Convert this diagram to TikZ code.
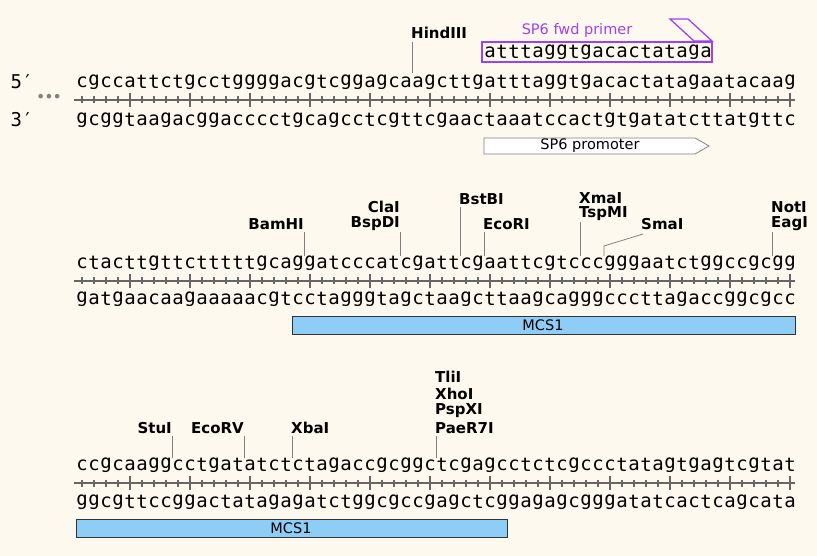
\documentclass[tikz,border=0pt]{standalone}
\usepackage{fontspec}
\newfontfamily\seqf{DejaVu Sans Mono}
\newfontfamily\labf{DejaVu Sans}
\definecolor{bg}{HTML}{FEF9EE}
\definecolor{prim}{HTML}{A040F0}
\definecolor{mcs}{HTML}{8ECDF5}
\definecolor{rulc}{HTML}{666666}
\newcount\seqi
\def\seqrow#1#2{\seqi=0\def\seqy{#1}\seqloop#2\relax}
\def\seqloop#1{\ifx#1\relax\else\node[seq] (s\seqy-\the\seqi) at ({82+12*\the\seqi},\seqy) {#1};\advance\seqi by 1\relax\expandafter\seqloop\fi}
\newcommand\ruler[1]{%
  \draw[rul] (74,#1) -- (795,#1);
  \foreach \i in {0,...,59}{\draw[rul] ({82+12*\i},#1-3.5) -- ++(0,7);}
  \foreach \i in {4,9,...,59}{\draw[rul] ({82+12*\i},#1-7) -- ++(0,14);}
}
\begin{document}
\begin{tikzpicture}[x=1pt,y=-1pt,
  seq/.style={inner sep=0pt,font=\seqf\fontsize{19}{19}\selectfont},
  rul/.style={draw=rulc,line width=1.6pt},
  cut/.style={draw=gray,line width=0.8pt},
  enz/.style={inner sep=0pt,font=\labf\bfseries\fontsize{15}{15}\selectfont},
  lab/.style={inner sep=0pt,font=\labf\fontsize{14.5}{14.5}\selectfont},
  bar/.style={draw=black!80,fill=mcs,line width=0.7pt}]
\fill[bg] (0,0) rectangle (817,556);
\useasboundingbox (0,0) rectangle (817,556);
% row 1
\node[seq] (p5) at (22,82) {5′};
\node[seq] (p3) at (22,120) {3′};
\node[text=gray,font=\labf\bfseries\fontsize{13}{13}\selectfont,inner sep=0pt] (dots) at (49,98) {•••};
\seqrow{82}{cgccattctgcctggggacgtcggagcaagcttgatttaggtgacactatagaatacaag}
\ruler{100}
\seqrow{120}{gcggtaagacggacccctgcagcctcgttcgaactaaatccactgtgatatcttatgttc}
\draw[cut] (412,73) -- (412,42);
\node[enz,anchor=west] (hind) at (411,33) {HindIII};
% primer
\draw[prim,line width=1.3pt] (482,42) rectangle (712,62);
\draw[prim,line width=1.3pt,fill=bg] (670,19) -- (688,19) -- (712,41) -- (694,41) -- cycle;
\foreach \c [count=\i from 34] in {a,t,t,t,a,g,g,t,g,a,c,a,c,t,a,t,a,g,a}
  \node[seq] (pr\i) at ({82+12*\i},52) {\c};
\node[lab,text=prim] (primlab) at (577,31) {SP6 fwd primer};
\draw[draw=gray,fill=white,line width=0.8pt] (484,138) -- (695,138) -- (709,146) -- (695,154) -- (484,154) -- cycle;
\node[lab] (sp6) at (590,146) {SP6 promoter};
% row 2
\seqrow{263}{ctacttgttctttttgcaggatcccatcgattcgaattcgtcccgggaatctggccgcgg}
\ruler{281}
\seqrow{299}{gatgaacaagaaaaacgtcctagggtagctaagcttaagcagggcccttagaccggcgcc}
\draw[bar] (292,316) rectangle (795,334);
\node[lab] (mcs1a) at (543,325) {MCS1};
\draw[cut] (304,256) -- (304,232);
\node[enz,anchor=east] (bam) at (304,224) {BamHI};
\draw[cut] (400,256) -- (400,232);
\node[enz,anchor=east] (cla) at (400,207) {ClaI};
\node[enz,anchor=east] (bsp) at (400,224) {BspDI};
\draw[cut] (460,256) -- (460,207);
\node[enz,anchor=west] (bst) at (459,199) {BstBI};
\draw[cut] (484,256) -- (484,232);
\node[enz,anchor=west] (eco) at (483,224) {EcoRI};
\draw[cut] (580,256) -- (580,222);
\node[enz,anchor=west] (xma) at (579,198) {XmaI};
\node[enz,anchor=west] (tsp) at (579,214) {TspMI};
\draw[cut] (604,256) -- (604,246) -- (643,234);
\node[enz,anchor=west] (sma) at (641,224) {SmaI};
\draw[cut] (772,256) -- (772,232);
\node[enz,anchor=west] (not) at (771,207) {NotI};
\node[enz,anchor=west] (eag) at (771,224) {EagI};
% row 3
\seqrow{465}{ccgcaaggcctgatatctctagaccgcggctcgagcctctcgccctatagtgagtcgtat}
\ruler{483}
\seqrow{502}{ggcgttccggactatagagatctggcgccgagctcggagagcgggatatcactcagcata}
\draw[bar] (76,519) rectangle (507,537);
\node[lab] (mcs1b) at (291,528) {MCS1};
\draw[cut] (172,458) -- (172,436);
\node[enz,anchor=east] (stu) at (172,428) {StuI};
\draw[cut] (244,458) -- (244,436);
\node[enz,anchor=east] (ecorv) at (244,428) {EcoRV};
\draw[cut] (292,458) -- (292,436);
\node[enz,anchor=west] (xba) at (291,428) {XbaI};
\draw[cut] (436,458) -- (436,436);
\node[enz,anchor=west] (tli) at (435,377) {TliI};
\node[enz,anchor=west] (xho) at (435,394) {XhoI};
\node[enz,anchor=west] (psp) at (435,411) {PspXI};
\node[enz,anchor=west] (pae) at (435,428) {PaeR7I};
\end{tikzpicture}
\end{document}
